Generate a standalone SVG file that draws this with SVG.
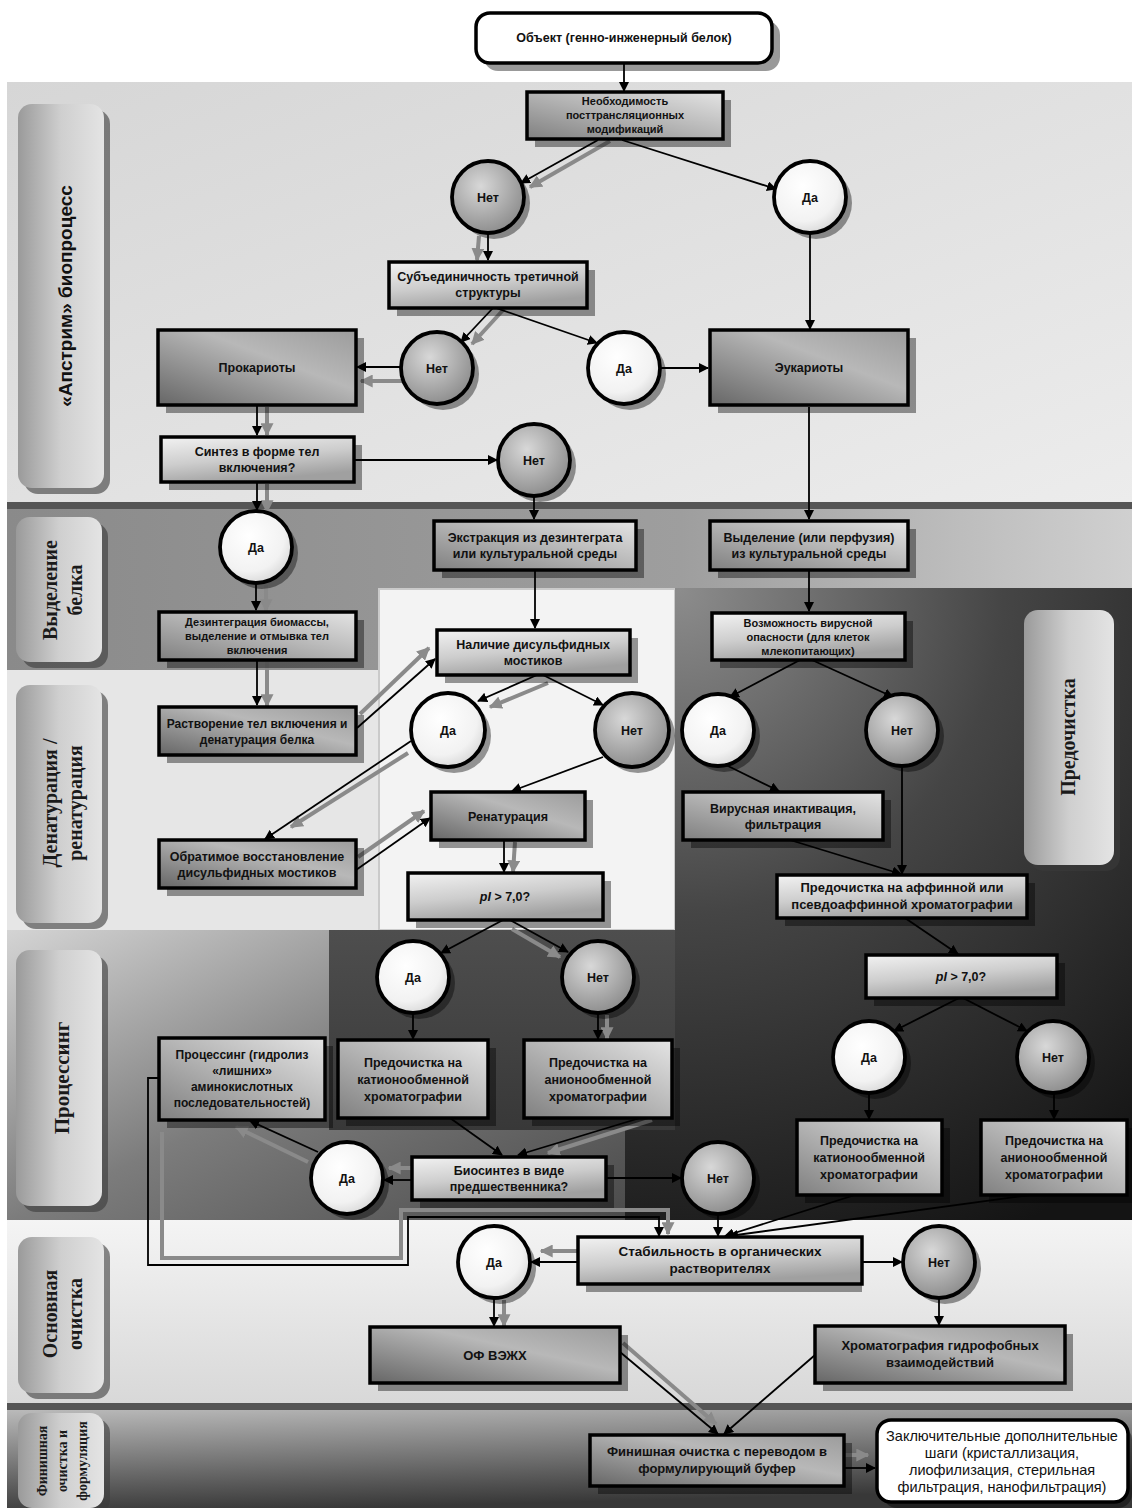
<svg xmlns="http://www.w3.org/2000/svg" width="1132" height="1508" viewBox="0 0 1132 1508">
<defs>
<linearGradient id="b1" x1="0" y1="0" x2="1" y2="1"><stop offset="0" stop-color="#d6d6d6"/><stop offset="1" stop-color="#ececec"/></linearGradient>
<linearGradient id="b2" gradientUnits="userSpaceOnUse" x1="7" y1="0" x2="1132" y2="0"><stop offset="0" stop-color="#8a8a8a"/><stop offset="0.6" stop-color="#9e9e9e"/><stop offset="1" stop-color="#d0d0d0"/></linearGradient>
<radialGradient id="b3" gradientUnits="userSpaceOnUse" cx="680" cy="590" r="720"><stop offset="0" stop-color="#8c8c8c"/><stop offset="0.45" stop-color="#454545"/><stop offset="1" stop-color="#141414"/></radialGradient>
<linearGradient id="b4" x1="0" y1="0" x2="1" y2="1"><stop offset="0" stop-color="#d4d4d4"/><stop offset="0.5" stop-color="#7c7c7c"/><stop offset="1" stop-color="#4a4a4a"/></linearGradient>
<linearGradient id="b4d" x1="0" y1="0" x2="0" y2="1"><stop offset="0" stop-color="#4e4e4e"/><stop offset="1" stop-color="#383838"/></linearGradient>
<linearGradient id="b5" x1="0" y1="0" x2="0" y2="1"><stop offset="0" stop-color="#f4f4f4"/><stop offset="1" stop-color="#d8d8d8"/></linearGradient>
<linearGradient id="b6" x1="0" y1="0" x2="0.3" y2="1"><stop offset="0" stop-color="#bababa"/><stop offset="1" stop-color="#383838"/></linearGradient>
<linearGradient id="gLab" x1="0" y1="0" x2="1" y2="0"><stop offset="0" stop-color="#9a9a9a"/><stop offset="0.5" stop-color="#cfcfcf"/><stop offset="1" stop-color="#e4e4e4"/></linearGradient>
<linearGradient id="gL" x1="0" y1="0" x2="0.4" y2="1"><stop offset="0" stop-color="#f2f2f2"/><stop offset="0.55" stop-color="#cdcdcd"/><stop offset="1" stop-color="#a0a0a0"/></linearGradient>
<linearGradient id="gM" x1="1" y1="0" x2="0" y2="1"><stop offset="0" stop-color="#e4e4e4"/><stop offset="0.5" stop-color="#b4b4b4"/><stop offset="1" stop-color="#808080"/></linearGradient>
<linearGradient id="gD" x1="0" y1="1" x2="1" y2="0"><stop offset="0" stop-color="#666666"/><stop offset="0.6" stop-color="#b8b8b8"/><stop offset="1" stop-color="#9c9c9c"/></linearGradient>
<radialGradient id="gW" cx="0.4" cy="0.35" r="0.7"><stop offset="0" stop-color="#ffffff"/><stop offset="0.7" stop-color="#f2f2f2"/><stop offset="1" stop-color="#d6d6d6"/></radialGradient>
<radialGradient id="gN" cx="0.4" cy="0.35" r="0.7"><stop offset="0" stop-color="#d8d8d8"/><stop offset="1" stop-color="#8a8a8a"/></radialGradient>
<marker id="ah" viewBox="0 0 10 10" refX="9" refY="5" markerWidth="10" markerHeight="10" markerUnits="userSpaceOnUse" orient="auto"><path d="M0,0 L10,5 L0,10 z" fill="#000"/></marker>
<marker id="gh" viewBox="0 0 10 10" refX="9" refY="5" markerWidth="13" markerHeight="13" markerUnits="userSpaceOnUse" orient="auto"><path d="M0,0 L10,5 L0,10 z" fill="#8a8a8a"/></marker>
<style>
.bx{stroke:#000;stroke-width:3.5}
.lt{fill:url(#gL)} .md{fill:url(#gM)} .dk{fill:url(#gD)} .wh{fill:#fff}
.sh{fill:#000;opacity:.4}
.yes{fill:url(#gW)} .no{fill:url(#gN)}
.c{stroke:#000;stroke-width:3.8}
.t{font-family:"Liberation Sans",Arial,sans-serif;font-weight:bold;font-size:12.5px;text-anchor:middle;fill:#111}
.ts{font-size:11px}
.tm{font-size:13px}
.tr{font-weight:normal;font-size:14.5px}
.a{stroke:#000;stroke-width:1.8;fill:none;marker-end:url(#ah)}
.g{stroke:#8a8a8a;stroke-width:4;fill:none;marker-end:url(#gh)}
.lab{fill:url(#gLab)}
.lsh{fill:#3a3a3a;opacity:.6}
.lt2{font-family:"Liberation Serif","Times New Roman",serif;font-weight:bold;font-size:20px;text-anchor:middle;fill:#1a1a1a}
</style>
</defs>
<rect width="1132" height="1508" fill="#fff"/>
<g id="bands">
<rect x="7" y="82" width="1125" height="420" fill="url(#b1)"/>
<rect x="7" y="502" width="1125" height="7" fill="#555"/>
<rect x="7" y="509" width="1125" height="161" fill="url(#b2)"/>
<rect x="7" y="670" width="668" height="260" fill="#e6e6e6"/>
<rect x="379" y="589" width="296" height="341" fill="#f3f3f3" stroke="#cacaca" stroke-width="2"/>
<rect x="7" y="930" width="618" height="292" fill="url(#b4)"/>
<rect x="329" y="930" width="346" height="200" fill="url(#b4d)"/>
<path d="M675,588 H1132 V1222 H625 V1130 H675 Z" fill="url(#b3)"/>
<rect x="7" y="1220" width="1125" height="183" fill="url(#b5)"/>
<rect x="7" y="1403" width="1125" height="7" fill="#555"/>
<rect x="7" y="1410" width="1125" height="98" fill="url(#b6)"/>
</g>
<g id="lanes">
<g id="lane-upstream"><rect class="lsh" x="24" y="110" width="86" height="384" rx="14"/><rect class="lab" x="18" y="104" width="86" height="384" rx="14"/><text class="t" style="font-size:19px" transform="translate(0,296) rotate(-90)" x="0" y="72">«Апстрим» биопроцесс</text></g>
<g id="lane-isolation"><rect class="lsh" x="22" y="523" width="86" height="145" rx="14"/><rect class="lab" x="16" y="517" width="86" height="145" rx="14"/><text class="lt2" transform="translate(0,590) rotate(-90)"><tspan x="0" y="57">Выделение</tspan><tspan x="0" y="82">белка</tspan></text></g>
<g id="lane-denat"><rect class="lsh" x="22" y="691" width="86" height="238" rx="14"/><rect class="lab" x="16" y="685" width="86" height="238" rx="14"/><text class="lt2" transform="translate(0,803) rotate(-90)"><tspan x="0" y="57">Денатурация /</tspan><tspan x="0" y="82">ренатурация</tspan></text></g>
<g id="lane-processing"><rect class="lsh" x="22" y="956" width="86" height="256" rx="14"/><rect class="lab" x="16" y="950" width="86" height="256" rx="14"/><text class="lt2" style="font-size:21px" transform="translate(0,1078) rotate(-90)" x="0" y="69">Процессинг</text></g>
<g id="lane-main"><rect class="lsh" x="24" y="1243" width="86" height="156" rx="14"/><rect class="lab" x="18" y="1237" width="86" height="156" rx="14"/><text class="lt2" transform="translate(0,1314) rotate(-90)"><tspan x="0" y="57">Основная</tspan><tspan x="0" y="82">очистка</tspan></text></g>
<g id="lane-final"><rect class="lsh" x="24" y="1419" width="86" height="95" rx="14"/><rect class="lab" x="18" y="1413" width="86" height="95" rx="14"/><text class="lt2" style="font-size:14px" transform="translate(0,1461) rotate(-90)"><tspan x="0" y="47">Финишная</tspan><tspan x="0" y="67">очистка и</tspan><tspan x="0" y="87">формуляция</tspan></text></g>
<g id="lane-prepurif"><rect class="lsh" x="1030" y="616" width="90" height="255" rx="14"/><rect class="lab" x="1024" y="610" width="90" height="255" rx="14"/><text class="lt2" transform="translate(0,737) rotate(-90)" x="0" y="1075">Предочистка</text></g>
</g>
<g id="connectors">
<path class="a" d="M624,63 V91"/>
<path class="g" d="M610,141 L530,187"/>
<path class="a" d="M598,140 L521,183"/>
<path class="a" d="M622,140 L776,189"/>
<path class="a" d="M810,233 V329"/>
<path class="g" d="M479,236 L477,260"/>
<path class="a" d="M488,233 V260"/>
<path class="g" d="M504,309 L472,344"/>
<path class="a" d="M493,308 L461,342"/>
<path class="a" d="M496,308 L597,343"/>
<path class="g" d="M403,381 H361"/>
<path class="a" d="M401,367 H357"/>
<path class="a" d="M660,368 H708"/>
<path class="g" d="M267,407 V435"/>
<path class="a" d="M257,405 V435"/>
<path class="a" d="M354,460 H497"/>
<path class="g" d="M267,484 V512"/>
<path class="a" d="M257,482 V510"/>
<path class="a" d="M534,496 V519"/>
<path class="a" d="M809,407 V519"/>
<path class="g" d="M266,585 V611"/>
<path class="a" d="M256,583 V610"/>
<path class="a" d="M535,570 V628"/>
<path class="a" d="M809,570 V611"/>
<path class="g" d="M267,662 V706"/>
<path class="a" d="M257,660 V705"/>
<path class="g" d="M360,714 L429,648"/>
<path class="a" d="M357,728 L435,659"/>
<path class="g" d="M548,683 L490,707"/>
<path class="a" d="M537,675 L478,701"/>
<path class="a" d="M543,675 L603,705"/>
<path class="a" d="M603,757 L512,791"/>
<path class="g" d="M408,753 L291,827"/>
<path class="a" d="M411,741 L265,839"/>
<path class="g" d="M358,857 L424,811"/>
<path class="a" d="M356,870 L430,818"/>
<path class="g" d="M515,842 L513,872"/>
<path class="a" d="M504,840 V872"/>
<path class="a" d="M800,660 L730,697"/>
<path class="a" d="M812,660 L893,697"/>
<path class="a" d="M726,765 L779,791"/>
<path class="a" d="M790,840 L901,874"/>
<path class="a" d="M902,766 V874"/>
<path class="a" d="M905,918 L958,954"/>
<path class="a" d="M959,998 L894,1031"/>
<path class="a" d="M963,998 L1027,1031"/>
<path class="a" d="M869,1093 V1119"/>
<path class="a" d="M1054,1093 V1119"/>
<path class="a" d="M855,1195 L725,1236"/>
<path class="a" d="M1030,1195 L729,1236"/>
<path class="a" d="M503,920 L441,953"/>
<path class="g" d="M512,929 L560,957"/>
<path class="a" d="M510,920 L568,952"/>
<path class="a" d="M413,1013 V1039"/>
<path class="g" d="M607,1015 V1039"/>
<path class="a" d="M598,1013 V1039"/>
<path class="a" d="M450,1118 L502,1155"/>
<path class="g" d="M652,1120 L548,1153"/>
<path class="a" d="M640,1118 L518,1155"/>
<path class="g" d="M412,1168 H389"/>
<path class="a" d="M412,1180 H384"/>
<path class="g" d="M308,1162 L236,1127"/>
<path class="a" d="M318,1152 L250,1121"/>
<path class="a" d="M606,1178 H681"/>
<path class="a" d="M718,1214 V1236"/>
<path class="g" d="M162,1132 V1258 H401 V1210 H668 V1234"/>
<path class="a" d="M159,1078 H148 V1265 H408 V1217 H659 V1236"/>
<path class="g" d="M579,1251 H541"/>
<path class="a" d="M578,1262 H531"/>
<path class="a" d="M862,1262 H902"/>
<path class="g" d="M504,1300 V1326"/>
<path class="a" d="M494,1298 V1326"/>
<path class="a" d="M939,1298 V1325"/>
<path class="g" d="M623,1343 L716,1424"/>
<path class="a" d="M620,1352 L718,1434"/>
<path class="a" d="M815,1355 L724,1434"/>
<path class="g" d="M844,1455 H868"/>
<path class="a" d="M844,1468 H875"/>
</g>
<g id="n_obj"><rect class="sh" x="484" y="21" width="296" height="50" rx="14"/><rect class="bx wh" x="476" y="13" width="296" height="50" rx="14"/><text class="t" x="624" y="42">Объект (генно-инженерный белок)</text></g>
<g id="n_ptm"><rect class="sh" x="535" y="100" width="196" height="47"/><rect class="bx md" x="527" y="92" width="196" height="47"/><text class="t ts" x="625"><tspan x="625" y="105">Необходимость</tspan><tspan x="625" y="119">посттрансляционных</tspan><tspan x="625" y="133">модификаций</tspan></text></g>
<g id="c_no1"><circle class="sh" cx="494" cy="203" r="36"/><circle class="c no" cx="488" cy="197" r="36"/><text class="t" x="488" y="201.5">Нет</text></g>
<g id="c_yes1"><circle class="sh" cx="816" cy="203" r="36"/><circle class="c yes" cx="810" cy="197" r="36"/><text class="t" x="810" y="201.5">Да</text></g>
<g id="n_sub"><rect class="sh" x="397" y="270" width="198" height="46"/><rect class="bx lt" x="389" y="262" width="198" height="46"/><text class="t"><tspan x="488" y="281">Субъединичность третичной</tspan><tspan x="488" y="297">структуры</tspan></text></g>
<g id="n_prok"><rect class="sh" x="166" y="338" width="198" height="75"/><rect class="bx dk" x="158" y="330" width="198" height="75"/><text class="t" x="257" y="372">Прокариоты</text></g>
<g id="c_no2"><circle class="sh" cx="443" cy="374" r="36"/><circle class="c no" cx="437" cy="368" r="36"/><text class="t" x="437" y="372.5">Нет</text></g>
<g id="c_yes2"><circle class="sh" cx="630" cy="374" r="36"/><circle class="c yes" cx="624" cy="368" r="36"/><text class="t" x="624" y="372.5">Да</text></g>
<g id="n_euk"><rect class="sh" x="718" y="338" width="198" height="75"/><rect class="bx dk" x="710" y="330" width="198" height="75"/><text class="t" x="809" y="372">Эукариоты</text></g>
<g id="n_synth"><rect class="sh" x="169" y="445" width="193" height="45"/><rect class="bx lt" x="161" y="437" width="193" height="45"/><text class="t"><tspan x="257" y="456">Синтез в форме тел</tspan><tspan x="257" y="472">включения?</tspan></text></g>
<g id="c_no3"><circle class="sh" cx="540" cy="466" r="36"/><circle class="c no" cx="534" cy="460" r="36"/><text class="t" x="534" y="464.5">Нет</text></g>
<g id="c_yes3"><circle class="sh" cx="262" cy="553" r="36"/><circle class="c yes" cx="256" cy="547" r="36"/><text class="t" x="256" y="551.5">Да</text></g>
<g id="n_extr"><rect class="sh" x="442" y="529" width="202" height="49"/><rect class="bx md" x="434" y="521" width="202" height="49"/><text class="t"><tspan x="535" y="542">Экстракция из дезинтеграта</tspan><tspan x="535" y="558">или культуральной среды</tspan></text></g>
<g id="n_isol"><rect class="sh" x="718" y="529" width="198" height="49"/><rect class="bx md" x="710" y="521" width="198" height="49"/><text class="t"><tspan x="809" y="542">Выделение (или перфузия)</tspan><tspan x="809" y="558">из культуральной среды</tspan></text></g>
<g id="n_disint"><rect class="sh" x="167" y="620" width="197" height="48"/><rect class="bx md" x="159" y="612" width="197" height="48"/><text class="t ts"><tspan x="257" y="626">Дезинтеграция биомассы,</tspan><tspan x="257" y="640">выделение и отмывка тел</tspan><tspan x="257" y="654">включения</tspan></text></g>
<g id="n_disulf"><rect class="sh" x="445" y="638" width="193" height="45"/><rect class="bx lt" x="437" y="630" width="193" height="45"/><text class="t"><tspan x="533" y="649">Наличие дисульфидных</tspan><tspan x="533" y="665">мостиков</tspan></text></g>
<g id="n_virus"><rect class="sh" x="720" y="621" width="193" height="47"/><rect class="bx lt" x="712" y="613" width="193" height="47"/><text class="t ts"><tspan x="808" y="626.5">Возможность вирусной</tspan><tspan x="808" y="640.5">опасности (для клеток</tspan><tspan x="808" y="654.5">млекопитающих)</tspan></text></g>
<g id="n_dissolve"><rect class="sh" x="167" y="715" width="197" height="48"/><rect class="bx dk" x="159" y="707" width="197" height="48"/><text class="t" style="font-size:12px"><tspan x="257" y="727.5">Растворение тел включения и</tspan><tspan x="257" y="743.5">денатурация белка</tspan></text></g>
<g id="c_yes4"><circle class="sh" cx="454" cy="736" r="37"/><circle class="c yes" cx="448" cy="730" r="37"/><text class="t" x="448" y="734.5">Да</text></g>
<g id="c_no4"><circle class="sh" cx="638" cy="736" r="37"/><circle class="c no" cx="632" cy="730" r="37"/><text class="t" x="632" y="734.5">Нет</text></g>
<g id="c_yes5"><circle class="sh" cx="724" cy="736" r="36"/><circle class="c yes" cx="718" cy="730" r="36"/><text class="t" x="718" y="734.5">Да</text></g>
<g id="c_no5"><circle class="sh" cx="908" cy="736" r="36"/><circle class="c no" cx="902" cy="730" r="36"/><text class="t" x="902" y="734.5">Нет</text></g>
<g id="n_renat"><rect class="sh" x="439" y="800" width="154" height="48"/><rect class="bx dk" x="431" y="792" width="154" height="48"/><text class="t" x="508" y="820.5">Ренатурация</text></g>
<g id="n_vinact"><rect class="sh" x="691" y="800" width="200" height="48"/><rect class="bx md" x="683" y="792" width="200" height="48"/><text class="t"><tspan x="783" y="812.5">Вирусная инактивация,</tspan><tspan x="783" y="828.5">фильтрация</tspan></text></g>
<g id="n_revers"><rect class="sh" x="167" y="848" width="197" height="48"/><rect class="bx dk" x="159" y="840" width="197" height="48"/><text class="t"><tspan x="257" y="860.5">Обратимое восстановление</tspan><tspan x="257" y="876.5">дисульфидных мостиков</tspan></text></g>
<g id="n_pi1"><rect class="sh" x="416" y="881" width="195" height="47"/><rect class="bx lt" x="408" y="873" width="195" height="47"/><text class="t" x="505" y="901"><tspan font-style="italic">pI</tspan> &gt; 7,0?</text></g>
<g id="n_aff"><rect class="sh" x="785" y="883" width="250" height="43"/><rect class="bx lt" x="777" y="875" width="250" height="43"/><text class="t tm"><tspan x="902" y="892">Предочистка на аффинной или</tspan><tspan x="902" y="909">псевдоаффинной хроматографии</tspan></text></g>
<g id="n_pi2"><rect class="sh" x="874" y="963" width="191" height="43"/><rect class="bx lt" x="866" y="955" width="191" height="43"/><text class="t" x="961" y="981"><tspan font-style="italic">pI</tspan> &gt; 7,0?</text></g>
<g id="c_yes6"><circle class="sh" cx="419" cy="983" r="36"/><circle class="c yes" cx="413" cy="977" r="36"/><text class="t" x="413" y="981.5">Да</text></g>
<g id="c_no6"><circle class="sh" cx="604" cy="983" r="36"/><circle class="c no" cx="598" cy="977" r="36"/><text class="t" x="598" y="981.5">Нет</text></g>
<g id="c_yes7"><circle class="sh" cx="875" cy="1063" r="36"/><circle class="c yes" cx="869" cy="1057" r="36"/><text class="t" x="869" y="1061.5">Да</text></g>
<g id="c_no7"><circle class="sh" cx="1059" cy="1063" r="36"/><circle class="c no" cx="1053" cy="1057" r="36"/><text class="t" x="1053" y="1061.5">Нет</text></g>
<g id="n_proc"><rect class="sh" x="167" y="1046" width="166" height="82"/><rect class="bx md" x="159" y="1038" width="166" height="82"/><text class="t" style="font-size:12px"><tspan x="242" y="1058.5">Процессинг (гидролиз</tspan><tspan x="242" y="1074.5">«лишних»</tspan><tspan x="242" y="1090.5">аминокислотных</tspan><tspan x="242" y="1106.5">последовательностей)</tspan></text></g>
<g id="n_cat1"><rect class="sh" x="346" y="1048" width="150" height="78"/><rect class="bx md" x="338" y="1040" width="150" height="78"/><text class="t"><tspan x="413" y="1066.5">Предочистка на</tspan><tspan x="413" y="1083.5">катионообменной</tspan><tspan x="413" y="1100.5">хроматографии</tspan></text></g>
<g id="n_an1"><rect class="sh" x="532" y="1048" width="148" height="78"/><rect class="bx md" x="524" y="1040" width="148" height="78"/><text class="t"><tspan x="598" y="1066.5">Предочистка на</tspan><tspan x="598" y="1083.5">анионообменной</tspan><tspan x="598" y="1100.5">хроматографии</tspan></text></g>
<g id="n_cat2"><rect class="sh" x="805" y="1128" width="145" height="75"/><rect class="bx md" x="797" y="1120" width="145" height="75"/><text class="t"><tspan x="869" y="1145">Предочистка на</tspan><tspan x="869" y="1162">катионообменной</tspan><tspan x="869" y="1179">хроматографии</tspan></text></g>
<g id="n_an2"><rect class="sh" x="989" y="1128" width="146" height="75"/><rect class="bx md" x="981" y="1120" width="146" height="75"/><text class="t"><tspan x="1054" y="1145">Предочистка на</tspan><tspan x="1054" y="1162">анионообменной</tspan><tspan x="1054" y="1179">хроматографии</tspan></text></g>
<g id="n_biosyn"><rect class="sh" x="420" y="1165" width="194" height="43"/><rect class="bx lt" x="412" y="1157" width="194" height="43"/><text class="t"><tspan x="509" y="1175">Биосинтез в виде</tspan><tspan x="509" y="1191">предшественника?</tspan></text></g>
<g id="c_yes8"><circle class="sh" cx="353" cy="1184" r="36"/><circle class="c yes" cx="347" cy="1178" r="36"/><text class="t" x="347" y="1182.5">Да</text></g>
<g id="c_no8"><circle class="sh" cx="724" cy="1184" r="36"/><circle class="c no" cx="718" cy="1178" r="36"/><text class="t" x="718" y="1182.5">Нет</text></g>
<g id="n_stab"><rect class="sh" x="586" y="1245" width="276" height="47"/><rect class="bx lt" x="578" y="1237" width="284" height="47"/><text class="t" style="font-size:13.5px"><tspan x="720" y="1256">Стабильность в органических</tspan><tspan x="720" y="1273">растворителях</tspan></text></g>
<g id="c_yes9"><circle class="sh" cx="500" cy="1268" r="36"/><circle class="c yes" cx="494" cy="1262" r="36"/><text class="t" x="494" y="1266.5">Да</text></g>
<g id="c_no9"><circle class="sh" cx="945" cy="1268" r="36"/><circle class="c no" cx="939" cy="1262" r="36"/><text class="t" x="939" y="1266.5">Нет</text></g>
<g id="n_rp"><rect class="sh" x="378" y="1335" width="250" height="56"/><rect class="bx dk" x="370" y="1327" width="250" height="56"/><text class="t tm" x="495" y="1359.5">ОФ ВЭЖХ</text></g>
<g id="n_hic"><rect class="sh" x="823" y="1334" width="250" height="57"/><rect class="bx dk" x="815" y="1326" width="250" height="57"/><text class="t tm"><tspan x="940" y="1350">Хроматография гидрофобных</tspan><tspan x="940" y="1367">взаимодействий</tspan></text></g>
<g id="n_fin"><rect class="sh" x="598" y="1443" width="254" height="51"/><rect class="bx dk" x="590" y="1435" width="254" height="51"/><text class="t tm"><tspan x="717" y="1456">Финишная очистка с переводом в</tspan><tspan x="717" y="1473">формулирующий буфер</tspan></text></g>
<g id="n_final"><rect class="sh" x="883" y="1426" width="249" height="82" rx="14"/><rect class="bx wh" x="877" y="1420" width="251" height="82" rx="14"/><text class="t tr"><tspan x="1002" y="1440.5">Заключительные дополнительные</tspan><tspan x="1002" y="1457.5">шаги (кристаллизация,</tspan><tspan x="1002" y="1474.5">лиофилизация, стерильная</tspan><tspan x="1002" y="1491.5">фильтрация, нанофильтрация)</tspan></text></g>
</svg>
